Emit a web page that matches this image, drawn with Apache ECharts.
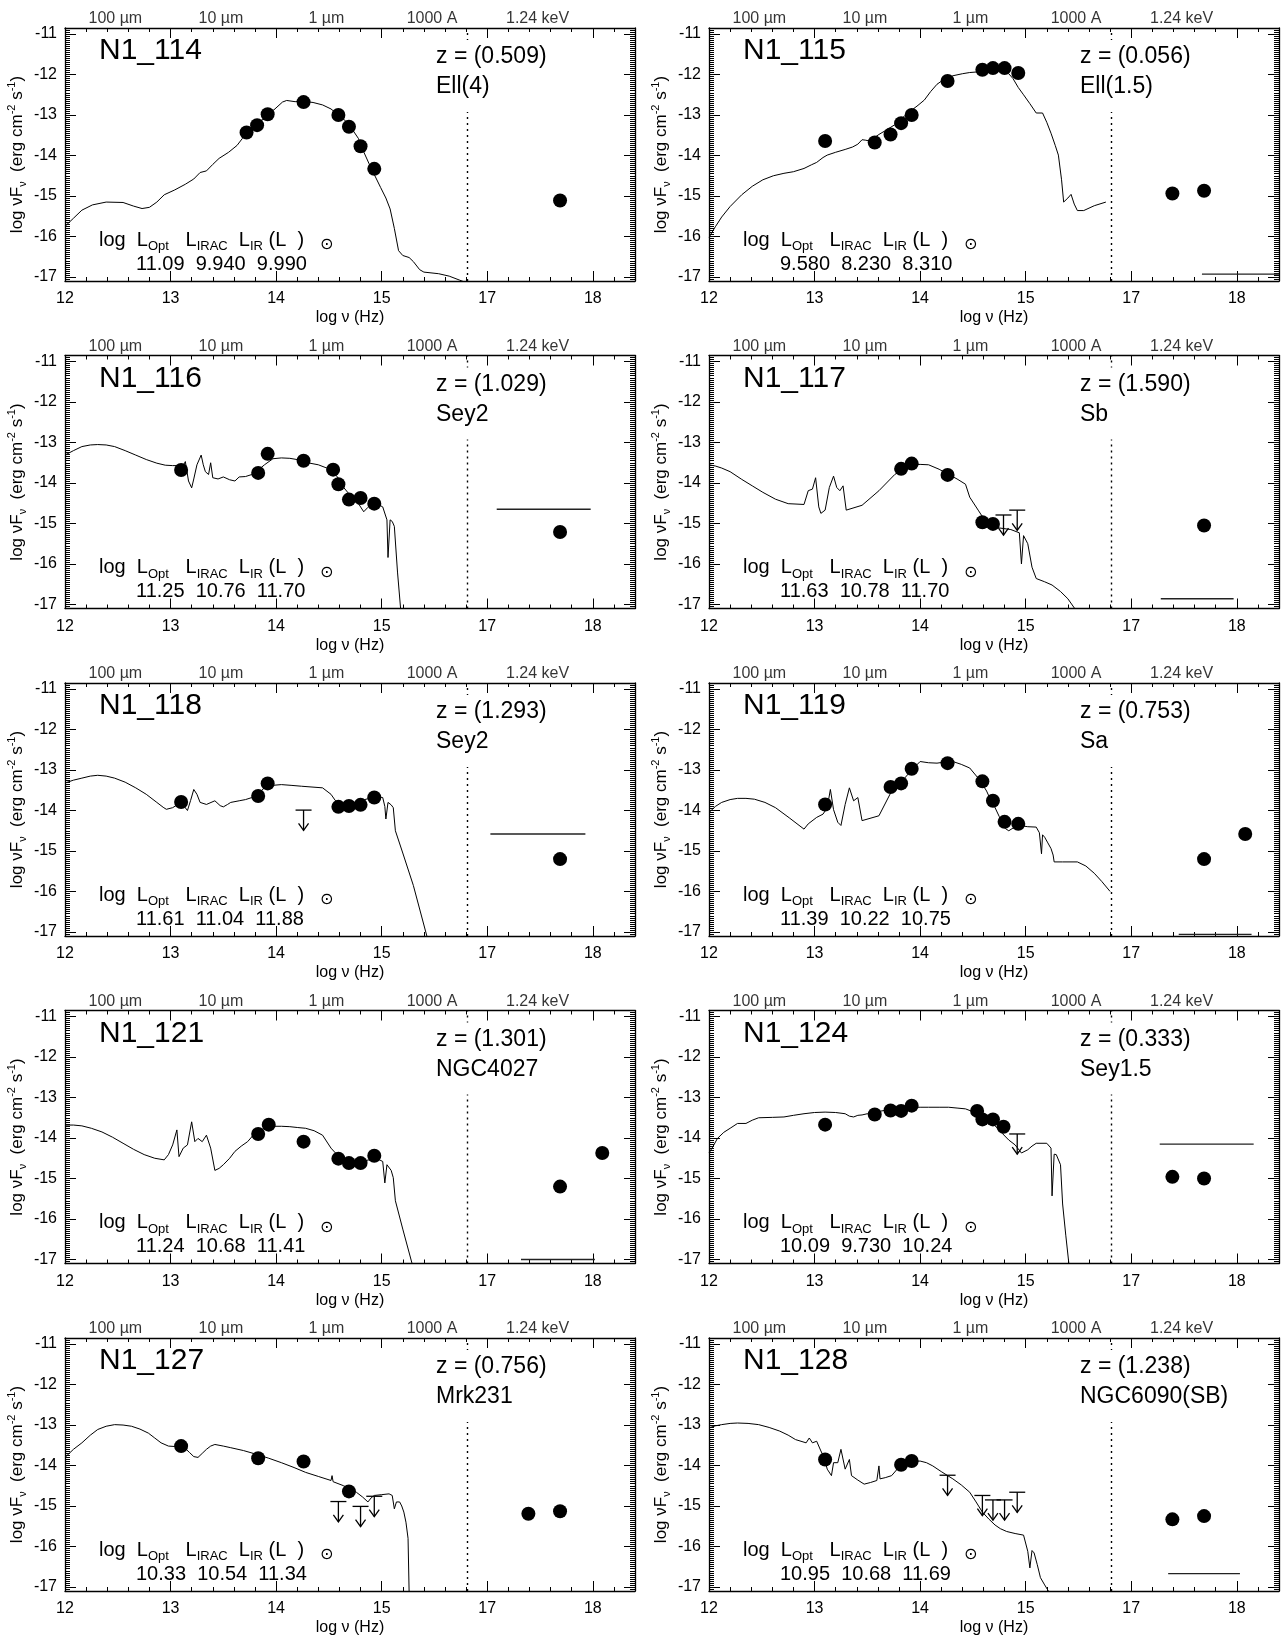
<!DOCTYPE html>
<html><head><meta charset="utf-8">
<script src="https://cdn.jsdelivr.net/npm/echarts@6.0.0/dist/echarts.min.js"></script>
<style>html,body{margin:0;padding:0;background:#fff}#c{width:1286px;height:1639px}</style>
</head><body><div id="c"></div>
<script>
// ---------------- DATA ----------------
const panelIds = ['N1_114','N1_115','N1_116','N1_117','N1_118','N1_119','N1_121','N1_124','N1_127','N1_128'];
const redshifts = [0.509, 0.056, 1.029, 1.590, 1.293, 0.753, 1.301, 0.333, 0.756, 1.238];
const templateNames = ['Ell(4)','Ell(1.5)','Sey2','Sb','Sey2','Sa','NGC4027','Sey1.5','Mrk231','NGC6090(SB)'];
const lumOpt  = [11.09, 9.580, 11.25, 11.63, 11.61, 11.39, 11.24, 10.09, 10.33, 10.95];
const lumIrac = [9.940, 8.230, 10.76, 10.78, 11.04, 10.22, 10.68, 9.730, 10.54, 10.68];
const lumIr   = [9.990, 8.310, 11.70, 11.70, 11.88, 10.75, 11.41, 10.24, 11.34, 11.69];

const xTickValues = [12, 13, 14, 15, 16, 17];
const topTickNames = ['100 \u00b5m', '10 \u00b5m', '1 \u00b5m', '1000 A', '1.24 keV'];
const topTickNu = [12.477, 13.477, 14.477, 15.477, 17.477];
const dividerAxisNu = 15.81;   // dotted separator of the X-ray section (axis units)
const xrayShift = 1;           // the axis skips one decade before the X-ray section

// SED template curves [log nu, log nuFnu]
const sed114 = [[12.0,-15.75],[12.08,-15.55],[12.16,-15.35],[12.26,-15.22],[12.39,-15.15],[12.55,-15.16],[12.65,-15.25],[12.73,-15.31],[12.80,-15.28],[12.87,-15.15],[12.94,-14.97],[13.04,-14.85],[13.14,-14.71],[13.22,-14.58],[13.28,-14.42],[13.34,-14.38],[13.40,-14.22],[13.46,-14.07],[13.55,-13.92],[13.63,-13.75],[13.68,-13.58],[13.73,-13.43],[13.80,-13.27],[13.89,-13.06],[13.98,-12.87],[14.06,-12.68],[14.10,-12.64],[14.18,-12.67],[14.25,-12.66],[14.35,-12.69],[14.44,-12.75],[14.52,-12.85],[14.60,-13.02],[14.66,-13.15],[14.72,-13.35],[14.78,-13.58],[14.83,-13.91],[14.88,-14.20],[14.93,-14.47],[14.99,-14.79],[15.04,-15.05],[15.08,-15.32],[15.12,-15.80],[15.16,-16.35],[15.20,-16.47],[15.26,-16.52],[15.30,-16.62],[15.36,-16.82],[15.40,-16.88],[15.54,-16.92],[15.64,-16.98],[15.74,-17.08],[15.78,-17.12]];
const sed115 = [[12.0,-16.02],[12.06,-15.76],[12.12,-15.52],[12.2,-15.26],[12.31,-14.97],[12.41,-14.76],[12.51,-14.6],[12.61,-14.5],[12.71,-14.44],[12.8,-14.4],[12.9,-14.32],[12.97,-14.23],[13.02,-14.17],[13.08,-14.05],[13.12,-13.99],[13.2,-13.92],[13.29,-13.85],[13.36,-13.79],[13.41,-13.72],[13.45,-13.61],[13.48,-13.62],[13.52,-13.64],[13.56,-13.57],[13.61,-13.48],[13.68,-13.37],[13.76,-13.24],[13.84,-13.05],[13.92,-12.88],[13.98,-12.76],[14.04,-12.63],[14.10,-12.42],[14.16,-12.24],[14.22,-12.13],[14.31,-12.03],[14.40,-11.98],[14.47,-11.95],[14.57,-11.93],[14.67,-11.91],[14.78,-11.91],[14.84,-11.98],[14.88,-12.10],[14.93,-12.32],[14.98,-12.50],[15.04,-12.72],[15.10,-12.95],[15.16,-12.95],[15.20,-13.18],[15.24,-13.45],[15.28,-13.75],[15.31,-13.99],[15.34,-14.6],[15.36,-15.15],[15.40,-15.05],[15.43,-14.96],[15.46,-15.2],[15.49,-15.36],[15.55,-15.36],[15.65,-15.24],[15.76,-15.15]];
const sed116 = [[12.0,-13.31],[12.08,-13.2],[12.16,-13.10],[12.24,-13.06],[12.31,-13.05],[12.39,-13.06],[12.47,-13.10],[12.57,-13.2],[12.67,-13.31],[12.77,-13.42],[12.87,-13.51],[12.95,-13.56],[13.02,-13.57],[13.12,-13.57],[13.14,-13.47],[13.17,-13.95],[13.20,-14.12],[13.22,-13.9],[13.25,-13.55],[13.29,-13.31],[13.31,-13.55],[13.33,-13.72],[13.36,-13.79],[13.38,-13.5],[13.40,-13.87],[13.45,-13.9],[13.50,-13.85],[13.56,-13.92],[13.61,-13.95],[13.65,-13.85],[13.71,-13.84],[13.77,-13.79],[13.83,-13.68],[13.89,-13.55],[13.97,-13.40],[14.05,-13.38],[14.13,-13.39],[14.22,-13.43],[14.32,-13.51],[14.40,-13.55],[14.48,-13.63],[14.54,-13.72],[14.58,-13.85],[14.64,-14.11],[14.70,-14.3],[14.76,-14.43],[14.83,-14.71],[14.87,-14.6],[14.91,-14.51],[14.96,-14.52],[15.01,-14.59],[15.05,-14.91],[15.06,-15.84],[15.07,-15.84],[15.08,-14.91],[15.10,-14.95],[15.12,-15.07],[15.15,-16.20],[15.18,-17.12]];
const sed117 = [[12.0,-13.55],[12.06,-13.58],[12.12,-13.63],[12.2,-13.72],[12.31,-13.91],[12.41,-14.07],[12.51,-14.23],[12.63,-14.4],[12.75,-14.51],[12.9,-14.53],[12.94,-14.19],[12.98,-14.15],[13.01,-13.87],[13.04,-14.59],[13.06,-14.75],[13.10,-14.67],[13.14,-14.11],[13.18,-13.83],[13.21,-14.11],[13.24,-14.19],[13.27,-14.07],[13.30,-14.67],[13.45,-14.55],[13.61,-14.19],[13.76,-13.79],[13.84,-13.65],[13.92,-13.55],[14.00,-13.54],[14.08,-13.55],[14.18,-13.66],[14.27,-13.79],[14.35,-13.9],[14.43,-14.03],[14.47,-14.35],[14.55,-14.67],[14.63,-14.99],[14.75,-15.11],[14.86,-15.15],[14.94,-15.23],[14.96,-16.0],[14.98,-15.3],[15.02,-15.5],[15.06,-16.08],[15.10,-16.36],[15.18,-16.44],[15.25,-16.52],[15.33,-16.68],[15.40,-16.86],[15.47,-17.12]];
const sed118 = [[12.0,-13.32],[12.08,-13.25],[12.16,-13.20],[12.24,-13.15],[12.31,-13.13],[12.39,-13.15],[12.47,-13.20],[12.57,-13.3],[12.67,-13.44],[12.77,-13.6],[12.87,-13.80],[12.93,-13.92],[12.96,-13.97],[13.02,-13.93],[13.10,-13.80],[13.16,-14.0],[13.19,-13.75],[13.22,-13.48],[13.25,-13.6],[13.28,-13.80],[13.34,-13.85],[13.42,-13.76],[13.47,-13.88],[13.50,-13.91],[13.54,-13.85],[13.57,-13.80],[13.65,-13.76],[13.71,-13.73],[13.77,-13.68],[13.83,-13.58],[13.89,-13.44],[13.96,-13.38],[14.05,-13.36],[14.15,-13.38],[14.24,-13.40],[14.34,-13.42],[14.44,-13.44],[14.52,-13.60],[14.56,-13.75],[14.60,-13.85],[14.68,-13.84],[14.76,-13.80],[14.84,-13.73],[14.91,-13.68],[14.96,-13.66],[15.01,-13.68],[15.03,-13.9],[15.04,-14.21],[15.06,-13.80],[15.09,-13.86],[15.11,-13.93],[15.13,-14.50],[15.20,-15.05],[15.30,-15.85],[15.43,-17.12]];
const sed119 = [[12.0,-14.05],[12.06,-13.9],[12.12,-13.80],[12.2,-13.73],[12.27,-13.70],[12.35,-13.70],[12.43,-13.72],[12.53,-13.8],[12.63,-13.93],[12.76,-14.18],[12.90,-14.46],[12.94,-14.33],[13.02,-14.17],[13.08,-14.09],[13.12,-13.93],[13.15,-13.48],[13.18,-13.98],[13.22,-14.29],[13.25,-14.37],[13.29,-13.85],[13.33,-13.44],[13.37,-13.76],[13.41,-13.68],[13.45,-14.25],[13.61,-14.13],[13.73,-13.52],[13.84,-13.24],[13.92,-13.0],[14.0,-12.79],[14.08,-12.82],[14.16,-12.83],[14.24,-12.80],[14.31,-12.79],[14.39,-12.86],[14.47,-12.95],[14.55,-13.20],[14.59,-13.35],[14.63,-13.52],[14.67,-13.75],[14.71,-13.93],[14.75,-14.15],[14.78,-14.33],[14.81,-14.45],[14.84,-14.50],[14.90,-14.40],[14.94,-14.37],[15.02,-14.40],[15.10,-14.41],[15.13,-14.55],[15.15,-15.07],[15.16,-14.6],[15.18,-14.66],[15.21,-14.8],[15.24,-14.94],[15.26,-15.1],[15.27,-15.27],[15.35,-15.27],[15.49,-15.27],[15.57,-15.37],[15.65,-15.55],[15.72,-15.75],[15.80,-16.0]];
const sed121 = [[12.0,-13.68],[12.08,-13.68],[12.16,-13.70],[12.25,-13.76],[12.35,-13.85],[12.45,-13.98],[12.55,-14.13],[12.65,-14.28],[12.75,-14.41],[12.85,-14.50],[12.94,-14.54],[12.98,-14.41],[13.02,-14.17],[13.06,-13.80],[13.08,-14.46],[13.12,-14.25],[13.16,-14.17],[13.20,-13.60],[13.23,-14.09],[13.26,-14.01],[13.30,-14.09],[13.34,-13.93],[13.38,-14.25],[13.42,-14.80],[13.46,-14.75],[13.50,-14.66],[13.56,-14.5],[13.61,-14.33],[13.67,-14.2],[13.73,-14.09],[13.81,-13.85],[13.89,-13.76],[13.97,-13.71],[14.05,-13.71],[14.13,-13.72],[14.20,-13.74],[14.28,-13.76],[14.36,-13.82],[14.44,-13.93],[14.52,-14.25],[14.58,-14.42],[14.64,-14.50],[14.72,-14.55],[14.80,-14.58],[14.88,-14.54],[14.95,-14.50],[15.01,-14.58],[15.03,-15.11],[15.05,-14.66],[15.09,-14.8],[15.11,-14.98],[15.13,-15.55],[15.20,-16.25],[15.29,-17.12]];
const sed124 = [[12.0,-14.37],[12.04,-14.2],[12.08,-14.01],[12.14,-13.86],[12.20,-13.76],[12.27,-13.64],[12.35,-13.64],[12.41,-13.56],[12.47,-13.50],[12.6,-13.49],[12.71,-13.48],[12.8,-13.44],[12.90,-13.40],[13.0,-13.37],[13.10,-13.36],[13.2,-13.37],[13.29,-13.40],[13.33,-13.46],[13.37,-13.48],[13.41,-13.44],[13.45,-13.43],[13.5,-13.40],[13.57,-13.36],[13.66,-13.32],[13.76,-13.28],[13.84,-13.26],[13.92,-13.24],[14.0,-13.24],[14.08,-13.24],[14.18,-13.24],[14.27,-13.24],[14.35,-13.26],[14.43,-13.28],[14.50,-13.35],[14.55,-13.40],[14.61,-13.50],[14.67,-13.60],[14.73,-13.75],[14.78,-13.89],[14.84,-14.05],[14.90,-14.17],[14.96,-14.37],[15.02,-14.29],[15.06,-14.2],[15.10,-14.13],[15.20,-14.13],[15.24,-14.25],[15.25,-15.43],[15.27,-14.4],[15.29,-14.41],[15.33,-14.66],[15.35,-15.63],[15.38,-16.4],[15.41,-17.12]];
const sed127 = [[12.0,-13.80],[12.08,-13.6],[12.16,-13.44],[12.24,-13.25],[12.31,-13.11],[12.39,-13.03],[12.47,-12.99],[12.55,-13.0],[12.63,-13.03],[12.71,-13.1],[12.79,-13.20],[12.85,-13.32],[12.91,-13.44],[12.98,-13.52],[13.04,-13.53],[13.10,-13.52],[13.14,-13.58],[13.18,-13.68],[13.22,-13.78],[13.26,-13.80],[13.30,-13.7],[13.34,-13.60],[13.38,-13.52],[13.42,-13.48],[13.5,-13.52],[13.57,-13.56],[13.69,-13.63],[13.81,-13.72],[13.93,-13.82],[14.05,-13.93],[14.17,-14.05],[14.28,-14.17],[14.40,-14.27],[14.52,-14.37],[14.53,-14.25],[14.54,-14.4],[14.64,-14.50],[14.70,-14.58],[14.76,-14.66],[14.82,-14.78],[14.87,-14.90],[14.90,-14.80],[14.93,-14.74],[15.0,-14.72],[15.07,-14.70],[15.10,-14.74],[15.12,-15.07],[15.14,-14.9],[15.17,-14.90],[15.19,-15.0],[15.21,-15.15],[15.23,-15.4],[15.25,-15.80],[15.26,-17.12]];
const sed128 = [[12.0,-13.07],[12.06,-13.02],[12.12,-12.99],[12.2,-12.96],[12.27,-12.95],[12.37,-12.96],[12.47,-12.99],[12.57,-13.06],[12.67,-13.15],[12.75,-13.25],[12.82,-13.36],[12.92,-13.44],[12.95,-13.32],[12.98,-13.44],[13.02,-13.40],[13.06,-13.64],[13.09,-13.8],[13.12,-14.09],[13.16,-14.25],[13.18,-13.93],[13.22,-13.93],[13.25,-13.60],[13.29,-14.09],[13.33,-13.85],[13.35,-14.25],[13.41,-14.36],[13.47,-14.46],[13.53,-14.42],[13.59,-14.37],[13.61,-14.01],[13.62,-14.33],[13.67,-14.3],[13.73,-14.25],[13.78,-14.1],[13.84,-13.93],[13.92,-13.9],[14.0,-13.89],[14.06,-13.93],[14.12,-14.01],[14.2,-14.15],[14.31,-14.33],[14.39,-14.48],[14.47,-14.66],[14.53,-14.9],[14.59,-15.15],[14.65,-15.32],[14.71,-15.47],[14.76,-15.56],[14.82,-15.63],[14.90,-15.68],[14.98,-15.72],[15.02,-16.12],[15.04,-16.53],[15.06,-16.1],[15.08,-16.16],[15.11,-16.45],[15.14,-16.77],[15.18,-16.95],[15.22,-17.12]];

// photometric detections [log nu, log nuFnu]
const phot114 = [[13.72,-13.43],[13.82,-13.25],[13.92,-12.98],[14.26,-12.68],[14.59,-13.00],[14.69,-13.29],[14.80,-13.77],[14.93,-14.33]];
const phot115 = [[13.10,-13.64],[13.57,-13.68],[13.72,-13.48],[13.82,-13.20],[13.92,-13.00],[14.26,-12.16],[14.59,-11.88],[14.69,-11.84],[14.80,-11.84],[14.93,-11.96]];
const phot116 = [[13.10,-13.68],[13.83,-13.75],[13.92,-13.28],[14.26,-13.45],[14.54,-13.67],[14.59,-14.03],[14.69,-14.41],[14.80,-14.37],[14.93,-14.51]];
const phot117 = [[13.82,-13.65],[13.92,-13.52],[14.26,-13.80],[14.59,-14.97],[14.69,-15.01]];
const phot118 = [[13.10,-13.79],[13.83,-13.64],[13.92,-13.33],[14.59,-13.91],[14.69,-13.89],[14.80,-13.86],[14.93,-13.68]];
const phot119 = [[13.10,-13.85],[13.72,-13.42],[13.82,-13.33],[13.92,-12.97],[14.26,-12.83],[14.59,-13.28],[14.69,-13.76],[14.80,-14.28],[14.93,-14.33]];
const phot121 = [[13.83,-13.90],[13.93,-13.67],[14.26,-14.09],[14.59,-14.51],[14.69,-14.62],[14.80,-14.62],[14.93,-14.44]];
const phot124 = [[13.10,-13.67],[13.57,-13.42],[13.72,-13.32],[13.82,-13.33],[13.92,-13.20],[14.54,-13.33],[14.59,-13.54],[14.69,-13.54],[14.79,-13.72]];
const phot127 = [[13.10,-13.52],[13.83,-13.82],[14.26,-13.90],[14.69,-14.64]];
const phot128 = [[13.10,-13.85],[13.82,-13.98],[13.92,-13.89]];

// X-ray detections [true log nu, log nuFnu]
const xray114 = [[17.69,-15.11]];
const xray115 = [[17.39,-14.94],[17.69,-14.87]];
const xray116 = [[17.69,-15.21]];
const xray117 = [[17.69,-15.05]];
const xray118 = [[17.69,-15.20]];
const xray119 = [[17.69,-15.20],[18.08,-14.58]];
const xray121 = [[17.69,-15.20],[18.09,-14.37]];
const xray124 = [[17.39,-14.96],[17.69,-15.00]];
const xray127 = [[17.39,-15.19],[17.69,-15.13]];
const xray128 = [[17.39,-15.33],[17.69,-15.25]];

// upper limits [log nu, log nuFnu]
const ulim114 = [], ulim115 = [], ulim116 = [], ulim119 = [], ulim121 = [];
const ulim117 = [[14.79,-14.79],[14.92,-14.67]];
const ulim118 = [[14.26,-13.99]];
const ulim124 = [[14.92,-13.90]];
const ulim127 = [[14.59,-14.89],[14.80,-15.01],[14.93,-14.76]];
const ulim128 = [[14.26,-14.24],[14.59,-14.74],[14.69,-14.85],[14.80,-14.85],[14.92,-14.66]];

// X-ray band horizontal segments [log nu start, log nu end, log nuFnu]
const xbar114 = null;
const xbar115 = [17.67, 18.40, -16.93];
const xbar116 = [17.09, 17.98, -14.65];
const xbar117 = [17.28, 17.97, -16.86];
const xbar118 = [17.03, 17.93, -14.58];
const xbar119 = [17.45, 18.14, -17.06];
const xbar121 = [17.32, 18.02, -17.00];
const xbar124 = [17.27, 18.16, -14.15];
const xbar127 = null;
const xbar128 = [17.35, 18.03, -16.67];

// ---------------- LAYOUT / STYLE ----------------
const FONT = '"Liberation Sans", Arial, Helvetica, sans-serif';
const GX = [65, 709], GW = 570;
const GY = [28, 355.5, 683, 1010.5, 1338], GH = 253;
const XMIN = 12, XMAX = 17.4, YMIN = -17.1, YMAX = -10.85;
const ULIM_LEN = 0.5;

const sedList  = [sed114, sed115, sed116, sed117, sed118, sed119, sed121, sed124, sed127, sed128];
const photList = [phot114, phot115, phot116, phot117, phot118, phot119, phot121, phot124, phot127, phot128];
const xrayList = [xray114, xray115, xray116, xray117, xray118, xray119, xray121, xray124, xray127, xray128];
const ulimList = [ulim114, ulim115, ulim116, ulim117, ulim118, ulim119, ulim121, ulim124, ulim127, ulim128];
const xbarList = [xbar114, xbar115, xbar116, xbar117, xbar118, xbar119, xbar121, xbar124, xbar127, xbar128];

function toAxis(nu) { return nu > 16.5 ? nu - xrayShift : nu; }
function isInt(v) { return Math.abs(v - Math.round(v)) < 1e-6; }
function xLabel(v) {
  if (!isInt(v)) return '';
  const r = Math.round(v);
  if (xTickValues.indexOf(r) < 0) return '';
  return String(r <= 15 ? r : r + xrayShift);
}
function yLabel(v) { return isInt(v) ? String(Math.round(v)) : ''; }

const chart = echarts.init(document.getElementById('c'), null, {renderer: 'canvas'});
const option = {animation: false, backgroundColor: '#fff', grid: [], xAxis: [], yAxis: [], series: [], graphic: []};
const black = '#000';

function xAxisDef(i, pos, major, labels) {
  return {
    type: 'value', gridIndex: i, position: pos, min: XMIN, max: XMAX,
    interval: major ? 1 : 0.2,
    axisLine: {show: major, onZero: false, lineStyle: {color: black, width: 1.3}},
    axisTick: {show: true, inside: true, length: major ? 10 : 4, lineStyle: {color: black, width: 1}},
    axisLabel: {show: labels, formatter: xLabel, color: black, fontSize: 16, fontFamily: FONT, margin: 10,
                showMinLabel: true, showMaxLabel: true, hideOverlap: false},
    splitLine: {show: false},
    name: labels ? 'log \u03bd (Hz)' : '', nameLocation: 'middle', nameGap: 29, nameMoveOverlap: false,
    nameTextStyle: {color: black, fontSize: 16, fontFamily: FONT}
  };
}
function yAxisDef(i, pos, major, labels) {
  const d = {
    type: 'value', gridIndex: i, position: pos, min: YMIN, max: YMAX,
    axisLine: {show: major, onZero: false, lineStyle: {color: black, width: 1.3}},
    axisTick: {show: true, inside: true, length: major ? 11 : 5, lineStyle: {color: black, width: 1}},
    axisLabel: {show: labels, formatter: yLabel, color: black, fontSize: 16, fontFamily: FONT, margin: 8,
                showMinLabel: true, showMaxLabel: true, hideOverlap: false},
    splitLine: {show: false}
  };
  if (major) { d.minInterval = 1; d.maxInterval = 1; d.splitNumber = 6; } else { d.interval = 0.05; }
  if (labels) {
    d.name = '{a|log \u03bdF}{s|\u03bd}{a|  (erg cm}{p|-2}{a| s}{p|-1}{a|)}';
    d.nameLocation = 'middle'; d.nameGap = 37; d.nameRotate = 90; d.nameMoveOverlap = false;
    d.nameTextStyle = {color: black, fontSize: 17, fontFamily: FONT, rich: {
      a: {fontSize: 17, fontFamily: FONT, color: black, lineHeight: 22, verticalAlign: 'middle'},
      s: {fontSize: 11, fontFamily: FONT, color: black, lineHeight: 11, verticalAlign: 'bottom'},
      p: {fontSize: 11, fontFamily: FONT, color: black, lineHeight: 11, verticalAlign: 'top'}
    }};
  }
  return d;
}

panelIds.forEach((pid, i) => {
  const col = i % 2, row = Math.floor(i / 2);
  const L = GX[col], T = GY[row];
  option.grid.push({left: L, top: T, width: GW, height: GH, containLabel: false, outerBoundsMode: 'none'});
  option.xAxis.push(xAxisDef(i, 'bottom', true, true), xAxisDef(i, 'bottom', false, false),
                    xAxisDef(i, 'top', true, false), xAxisDef(i, 'top', false, false));
  option.yAxis.push(yAxisDef(i, 'left', true, true), yAxisDef(i, 'left', false, false),
                    yAxisDef(i, 'right', true, false), yAxisDef(i, 'right', false, false));
  const xi = 4 * i, yi = 4 * i;

  // template curve + divider
  option.series.push({
    type: 'line', xAxisIndex: xi, yAxisIndex: yi, showSymbol: false, symbol: 'none',
    data: sedList[i].map(d => [toAxis(d[0]), d[1]]),
    lineStyle: {color: black, width: 1}, silent: true, z: 3,
    markLine: {silent: true, symbol: 'none', label: {show: false},
      lineStyle: {color: black, type: [2, 4], width: 1.4}, data: [{xAxis: dividerAxisNu}]}
  });
  // detections
  option.series.push({
    type: 'scatter', xAxisIndex: xi, yAxisIndex: yi, symbol: 'circle', symbolSize: 14,
    itemStyle: {color: black, opacity: 1}, silent: true, z: 4,
    data: photList[i].concat(xrayList[i]).map(d => [toAxis(d[0]), d[1]])
  });
  // x-ray band segment
  if (xbarList[i]) {
    const b = xbarList[i];
    option.series.push({
      type: 'line', xAxisIndex: xi, yAxisIndex: yi, showSymbol: false, symbol: 'none', silent: true,
      data: [[toAxis(b[0]), b[2]], [toAxis(b[1]), b[2]]], lineStyle: {color: '#222', width: 1.4}
    });
  }
  // upper limits
  if (ulimList[i].length) {
    option.series.push({
      type: 'custom', xAxisIndex: xi, yAxisIndex: yi, silent: true, z: 5,
      data: ulimList[i].map(d => [toAxis(d[0]), d[1]]),
      renderItem: (params, api) => {
        const top = api.coord([api.value(0), api.value(1)]);
        const bot = api.coord([api.value(0), api.value(1) - ULIM_LEN]);
        const hw = 8, ah = 7, aw = 5;
        const st = {stroke: black, lineWidth: 1.3, fill: null};
        return {type: 'group', children: [
          {type: 'line', shape: {x1: top[0] - hw, y1: top[1], x2: top[0] + hw, y2: top[1]}, style: st},
          {type: 'line', shape: {x1: top[0], y1: top[1], x2: bot[0], y2: bot[1]}, style: st},
          {type: 'polyline', shape: {points: [[bot[0] - aw, bot[1] - ah], [bot[0], bot[1]], [bot[0] + aw, bot[1] - ah]]}, style: st}
        ]};
      }
    });
  }
  // wavelength labels along the top axis
  option.series.push({
    type: 'scatter', xAxisIndex: xi + 2, yAxisIndex: yi, symbol: 'circle', symbolSize: 0, clip: false, silent: true,
    itemStyle: {color: 'rgba(0,0,0,0)'},
    label: {show: true, position: 'top', distance: 1, formatter: '{b}', color: black, fontSize: 16, fontFamily: FONT},
    data: topTickNames.map((n, k) => ({name: n, value: [toAxis(topTickNu[k]), YMAX]}))
  });

  // annotations
  option.graphic.push({
    type: 'text', x: L + 34, y: T + 23, z: 100, silent: true,
    style: {text: pid, fill: black, fontSize: 30, fontFamily: FONT, verticalAlign: 'middle', align: 'left'}
  });
  option.graphic.push({
    type: 'text', x: L + 368, y: T + 12, z: 100, silent: true,
    style: {text: 'z = (' + redshifts[i].toFixed(3) + ')\n' + templateNames[i], fill: black, fontSize: 23,
            fontFamily: FONT, lineHeight: 30, verticalAlign: 'top', align: 'left',
            backgroundColor: '#fff', padding: [2, 3, 10, 3]}
  });
  option.graphic.push({
    type: 'text', x: L + 34, y: T + 212, z: 100, silent: true,
    style: {text: '{m|log  L}{s|Opt}{m|   L}{s|IRAC}{m|  L}{s|IR}{m| (L  )}', verticalAlign: 'middle', align: 'left',
      rich: {
        m: {fontSize: 20, fontFamily: FONT, fill: black, lineHeight: 26, verticalAlign: 'middle'},
        s: {fontSize: 13, fontFamily: FONT, fill: black, lineHeight: 13, verticalAlign: 'bottom'}
      }}
  });
  option.graphic.push({
    type: 'text', x: L + 71, y: T + 236, z: 100, silent: true,
    style: {text: lumOpt[i].toPrecision(4) + '  ' + lumIrac[i].toPrecision(4) + '  ' + lumIr[i].toPrecision(4),
            fill: black, fontSize: 20, fontFamily: FONT, verticalAlign: 'middle', align: 'left'}
  });
  option.graphic.push({
    type: 'text', x: L + 255, y: T + 217, z: 100, silent: true,
    style: {text: '\u2299', fill: black, fontSize: 16, fontFamily: '"DejaVu Sans", sans-serif', verticalAlign: 'middle', align: 'left'}
  });
});

chart.setOption(option);
</script></body></html>
